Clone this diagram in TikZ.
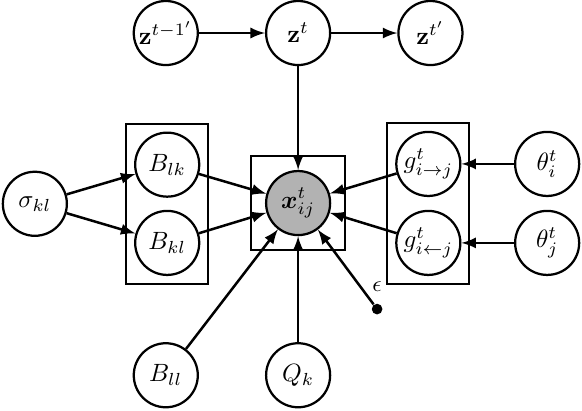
\documentclass[tikz,border=0pt]{standalone}
\usepackage{amsmath}
\usepackage{tikz}
\usetikzlibrary{positioning,fit}
\tikzset{var node/.style={circle,draw,line width=0.9pt,minimum size=0.9cm,inner sep=0pt},
         obs node/.style={var node,fill=black!30},
         plate/.style={draw,thick,rectangle},
         dot node/.style={circle,fill=black,minimum size=0.15cm,inner sep=0pt},
            }

\begin{document}
\begin{tikzpicture}[on grid]
    \useasboundingbox (-4.19,-2.91) rectangle (3.99,2.854);
    \node[obs node] (x) {$\boldsymbol{x}^t_{ij}$};
    \node[var node] (zt) [above = 2.39cm of x] {$\mathbf{z}^t$};
    \node[var node] (zprev) [left = 1.86cm of zt] {$\mathbf{z}^{t-1'}$};
    \node[var node] (znext) [right = 1.86cm of zt] {$\mathbf{z}^{t'}$};

    \node[var node] (Blk) [above left = 0.54cm and 1.84cm of x] {$B_{lk}$};
    \node[var node] (Bkl) [below left = 0.56cm and 1.84cm of x] {$B_{kl}$};
    \node[var node] (sigma) [below left = 0.55cm and 1.86cm of Blk] {$\sigma_{kl}$};

    \node[var node] (gij) [above right = 0.55cm and 1.83cm of x] {$g^t_{i\rightarrow j}$};
    \node[var node] (gji) [below right = 0.56cm and 1.83cm of x] {$g^t_{i\leftarrow j}$};
    \node[var node] (thi) [right = 1.67cm of gij] {$\theta^t_i$};
    \node[var node] (thj) [right = 1.67cm of gji] {$\theta^t_j$};

    \node[var node] (Bll) [below left = 2.42cm and 1.86cm of x] {$B_{ll}$};
    \node[var node] (Qk) [below = 2.42cm of x] {$Q_k$};
    \node[dot node] (eps) [below right = 1.49cm and 1.11cm of x,
        label={[font=\small,label distance=1pt]above:$\epsilon$}] {};

    % plates
    \node[plate,fit=(Blk)(Bkl),inner sep=0.11cm] (plateB) {};
    \node[plate,fit=(gij)(gji),inner sep=0.11cm] (plateG) {};
    \node[plate,fit=(x),inner sep=0.19cm] (plateX) {};

    \path[draw,line width=1pt,-latex]
    (zprev) edge node {} (zt)
    (zt) edge node {} (znext)
    (zt) edge node {} (x)
    (sigma) edge node {} (Blk)
    (sigma) edge node {} (Bkl)
    (Blk) edge node {} (x)
    (Bkl) edge node {} (x)
    (gij) edge node {} (x)
    (gji) edge node {} (x)
    (thi) edge node {} (gij)
    (thj) edge node {} (gji)
    (Bll) edge node {} (x)
    (Qk) edge node {} (x)
    (eps) edge node {} (x);
\end{tikzpicture}
\end{document}
